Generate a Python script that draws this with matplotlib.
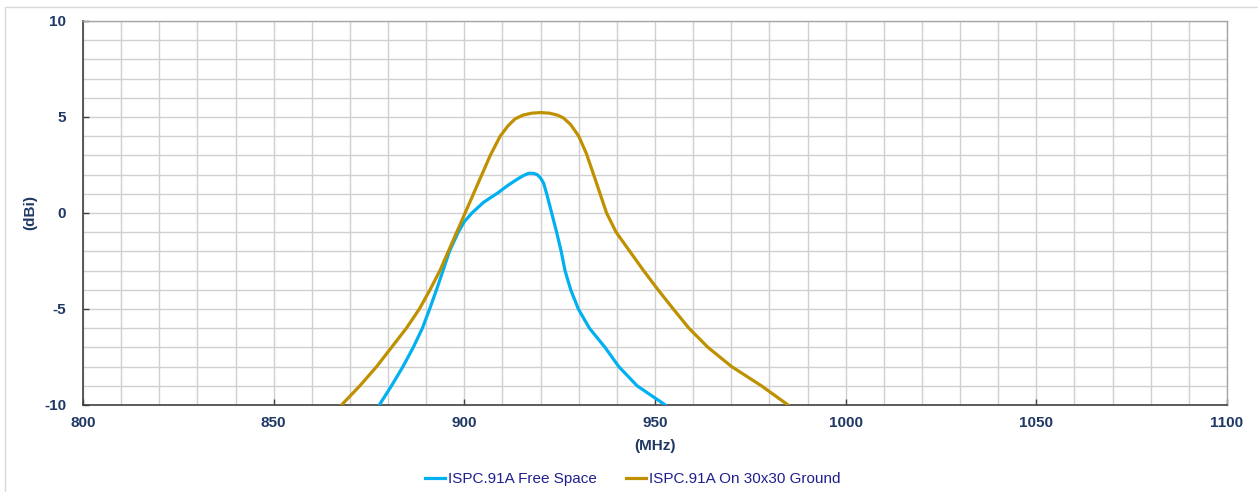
import matplotlib
matplotlib.use("Agg")
import matplotlib.pyplot as plt
from matplotlib.patches import Rectangle
from matplotlib.ticker import MultipleLocator

plt.rcParams['font.family'] = ['Liberation Sans', 'DejaVu Sans']
plt.rcParams['axes.unicode_minus'] = False

# Free Space (MHz, dBi)
free_freq = [877.7, 880.9, 883.9, 886.6, 889.0, 890.9, 892.7, 894.4, 896.1, 898.4,
             900.0, 902.0, 905.0, 908.8, 911.5, 913.8, 915.5, 916.9, 918.2, 919.1, 920.0,
             920.8, 921.6, 922.9, 924.2, 925.4, 926.4, 927.9, 929.9, 932.8, 936.9,
             940.5, 945.3, 952.7]
free_gain = [-10.0, -9.0, -8.0, -7.0, -6.0, -5.0, -4.0, -3.0, -2.0, -1.0,
             -0.45, 0.0, 0.55, 1.05, 1.45, 1.75, 1.95, 2.07, 2.06, 2.0, 1.82,
             1.55, 1.0, 0.0, -1.0, -2.0, -3.0, -4.0, -5.0, -6.0, -7.0,
             -8.0, -9.0, -10.0]

# On 30x30 Ground (MHz, dBi)
gnd_freq = [867.8, 872.6, 877.0, 880.9, 884.8, 888.2, 891.0, 893.6, 895.8, 898.0,
            900.2, 902.4, 904.6, 906.8, 909.4, 911.5, 913.3, 915.4, 917.7, 920.0,
            922.3, 924.4, 926.0, 927.9, 930.0, 932.0, 933.9, 935.6, 937.3, 939.8,
            943.4, 947.0, 950.8, 954.8, 958.9, 963.9, 970.1, 977.9, 984.9]
gnd_gain = [-10.0, -9.0, -8.0, -7.0, -6.0, -5.0, -4.0, -3.0, -2.0, -1.0,
            0.0, 1.0, 2.0, 3.0, 4.0, 4.55, 4.9, 5.1, 5.2, 5.23,
            5.2, 5.1, 4.95, 4.6, 4.0, 3.1, 2.0, 1.0, 0.0, -1.0,
            -2.0, -3.0, -4.0, -5.0, -6.0, -7.0, -8.0, -9.0, -10.0]

series_labels = ["ISPC.91A Free Space", "ISPC.91A On 30x30 Ground"]
x_ticks = [800, 850, 900, 950, 1000, 1050, 1100]
y_ticks = [-10, -5, 0, 5, 10]

W, H = 1258, 492
fig = plt.figure(figsize=(W / 100, H / 100), dpi=100)
fig.patches.append(Rectangle((5 / W, -0.1), 1.2, 1 - 7 / H + 0.1, transform=fig.transFigure,
                             fill=False, edgecolor='#D9D9D9', linewidth=1.0))
ax = fig.add_axes([83 / W, 1 - 405 / H, (1227 - 83) / W, (405 - 21) / H])

navy = '#1F3864'
ax.plot(free_freq, free_gain, color='#00B0F0', lw=2.3, label=series_labels[0], zorder=3,
        solid_joinstyle='round')
ax.plot(gnd_freq, gnd_gain, color='#BF9000', lw=2.3, label=series_labels[1], zorder=3,
        solid_joinstyle='round')

ax.set_xlim(800, 1100)
ax.set_ylim(-10, 10)
ax.set_xticks(x_ticks)
ax.set_yticks(y_ticks)
ax.xaxis.set_minor_locator(MultipleLocator(10))
ax.yaxis.set_minor_locator(MultipleLocator(1))
ax.grid(which='both', color='#D0D0D0', linewidth=1.0, zorder=0)
ax.set_axisbelow(True)
ax.tick_params(which='major', direction='in', length=4, width=1, color='#404040',
               labelsize=11, labelcolor=navy)
ax.tick_params(axis='x', which='major', pad=8)
ax.tick_params(axis='y', which='major', pad=12)
ax.tick_params(which='minor', length=0)
for lbl in ax.get_xticklabels() + ax.get_yticklabels():
    lbl.set_fontweight('bold')

for s in ['left', 'bottom']:
    ax.spines[s].set_color('#404040')
    ax.spines[s].set_linewidth(1.2)
for s in ['top', 'right']:
    ax.spines[s].set_color('#A6A6A6')
    ax.spines[s].set_linewidth(1.0)

fig.text(30 / W, 1 - 212 / H, '(dBi)', rotation=90, ha='center', va='center',
         fontsize=11, fontweight='bold', color=navy)
fig.text(655 / W, 1 - 446 / H, '(MHz)', ha='center', va='center',
         fontsize=11, fontweight='bold', color=navy)

leg = fig.legend(loc='center', bbox_to_anchor=(633 / W, 1 - 479 / H), ncol=2, frameon=False,
                 fontsize=11, handlelength=1.3, handletextpad=0.2, columnspacing=1.9,
                 borderaxespad=0)
for t in leg.get_texts():
    t.set_color('#1F1F8F')

fig.savefig('out.png', dpi=100)
